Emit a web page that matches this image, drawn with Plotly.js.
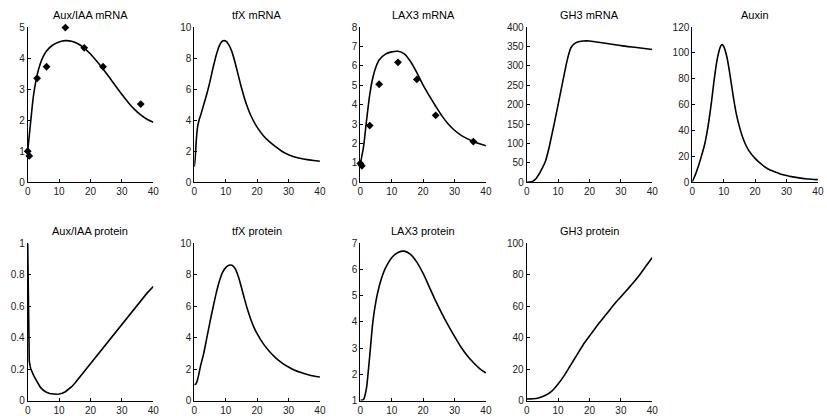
<!DOCTYPE html>
<html>
<head>
<meta charset="utf-8">
<script src="https://cdn.plot.ly/plotly-3.0.1.min.js"></script>
<style>html,body{margin:0;padding:0;background:#fff;}#chart{width:827px;height:416px;}</style>
</head>
<body>
<div id="chart"></div>
<script>
// ---- Data ----
const titles = ["Aux/IAA mRNA", "tfX mRNA", "LAX3 mRNA", "GH3 mRNA", "Auxin",
                "Aux/IAA protein", "tfX protein", "LAX3 protein", "GH3 protein"];

const auxIaaMrnaT = [0,0.5,1,1.5,2,3,4,5,6,8,10,12,14,16,18,20,22,24,26,28,30,32,34,36,38,40];
const auxIaaMrnaV = [1.0,1.5,2.0,2.5,2.9,3.45,3.82,4.06,4.23,4.42,4.52,4.56,4.54,4.46,4.32,4.13,3.9,3.65,3.38,3.1,2.83,2.57,2.35,2.17,2.03,1.93];

const tfxMrnaT = [0,0.3,0.6,1,1.5,2,3,4,5,6,7,8,9,10,11,12,13,14,15,16,17,18,20,22,24,26,28,30,32,34,36,38,40];
const tfxMrnaV = [1.0,1.6,2.6,3.5,4.0,4.3,5.0,5.7,6.5,7.4,8.2,8.8,9.1,9.1,8.85,8.4,7.7,6.9,6.1,5.4,4.8,4.3,3.55,3.0,2.6,2.28,1.98,1.78,1.63,1.53,1.46,1.4,1.36];

const lax3MrnaT = [0,1,2,3,4,5,6,8,10,12,14,16,18,20,22,24,26,28,30,32,34,36,38,40];
const lax3MrnaV = [0.97,1.8,3.2,4.5,5.4,5.95,6.3,6.6,6.72,6.75,6.62,6.22,5.65,5.0,4.45,3.92,3.42,3.0,2.68,2.43,2.25,2.1,1.98,1.88];

const gh3MrnaT = [0,1,2,3,4,5,6,7,8,9,10,11,12,13,14,15,16,18,20,25,30,35,40];
const gh3MrnaV = [0,0.5,3,10,22,37,55,85,122,160,200,240,280,318,345,356,361,364,364,358,352,347,342];

const auxinT = [0,1,2,3,4,5,6,7,8,9,9.5,10,11,12,13,14,15,16,17,18,20,22,24,26,28,30,32,34,36,38,40];
const auxinV = [0.5,6,13,21,30,43,60,80,96,105,106.5,105,97,83,67,53,43,35,29,24.5,18.5,14,10.5,8.3,6.5,5.2,4.2,3.4,2.8,2.4,2.1];

const auxIaaProtT = [0,0.15,0.3,0.5,0.8,1,2,3,4,5,6,7,8,9,10,11,12,13,14,15,16,18,20,22,24,26,28,30,32,34,36,38,40];
const auxIaaProtV = [1.0,0.6,0.35,0.25,0.215,0.2,0.155,0.115,0.085,0.065,0.052,0.045,0.041,0.04,0.041,0.046,0.056,0.07,0.088,0.11,0.135,0.187,0.238,0.289,0.34,0.39,0.44,0.49,0.54,0.59,0.638,0.683,0.725];

const tfxProtT = [0,0.5,1,2,3,4,5,6,7,8,9,10,11,12,13,14,15,16,17,18,19,20,22,24,26,28,30,32,34,36,38,40];
const tfxProtV = [1.0,1.05,1.3,2.2,3.0,4.0,5.0,5.95,6.85,7.6,8.15,8.45,8.6,8.6,8.4,7.9,7.2,6.45,5.75,5.15,4.65,4.25,3.6,3.1,2.7,2.38,2.13,1.93,1.78,1.66,1.56,1.49];

const lax3ProtT = [0,1,1.5,2,3,4,5,6,7,8,10,12,14,16,18,20,22,24,26,28,30,32,34,36,38,40];
const lax3ProtV = [1.0,1.03,1.2,1.5,2.7,4.0,4.8,5.35,5.75,6.05,6.45,6.65,6.7,6.58,6.28,5.85,5.33,4.8,4.32,3.87,3.45,3.05,2.72,2.45,2.22,2.05];

const gh3ProtT = [0,2,4,6,8,10,12,14,16,18,20,22,24,26,28,30,32,34,36,38,40];
const gh3ProtV = [1,1.1,1.8,3.3,6,10.5,16,22.5,29,35.5,41,46.5,51.5,56.5,61.5,66,70.5,75,80,85.5,91];

// measured data points (diamonds)
const dataT = [0,0.5,3,6,12,18,24,36];
const auxIaaMrnaData = [1.0,0.85,3.35,3.72,4.98,4.33,3.72,2.52];
const lax3MrnaData = [0.97,0.85,2.92,5.05,6.18,5.3,3.45,2.1];

// y-axis ranges and tick steps
const yRanges = [[0,5],[0,10],[0,8],[0,400],[0,120],[0,1],[0,10],[1,7],[0,100]];
const yDticks = [1,2,1,50,20,0.2,2,1,20];
const xTicks = [0,10,20,30,40];

// ---- Layout ----
const W = 827, H = 416;
const lefts = [27.7, 194.3, 360.3, 526.7, 692.3];
const axW = 125.6;
const rows = [[27, 182.3],[243.3, 400.5]];

const curves = [
  [auxIaaMrnaT, auxIaaMrnaV],[tfxMrnaT, tfxMrnaV],[lax3MrnaT, lax3MrnaV],[gh3MrnaT, gh3MrnaV],[auxinT, auxinV],
  [auxIaaProtT, auxIaaProtV],[tfxProtT, tfxProtV],[lax3ProtT, lax3ProtV],[gh3ProtT, gh3ProtV]
];

const traces = [];
const layout = {
  width: W, height: H,
  margin: {l:0, r:0, t:0, b:0},
  paper_bgcolor: '#fff', plot_bgcolor: 'rgba(0,0,0,0)',
  showlegend: false,
  font: {family: 'Liberation Sans, Arial, sans-serif', size: 10, color: '#000'},
  annotations: []
};

for (let i = 0; i < 9; i++) {
  const row = i < 5 ? 0 : 1;
  const col = i < 5 ? i : i - 5;
  const n = i + 1;
  const xa = 'x' + (n === 1 ? '' : n), ya = 'y' + (n === 1 ? '' : n);
  const x0 = lefts[col] / W, x1 = (lefts[col] + axW) / W;
  const y1 = 1 - rows[row][0] / H, y0 = 1 - rows[row][1] / H;
  const axCommon = {
    showline: true, linecolor: '#000', linewidth: 1,
    ticks: 'inside', ticklen: 3, tickwidth: 1, tickcolor: '#000',
    showgrid: false, zeroline: false, fixedrange: true,
    tickfont: {family: 'Liberation Sans, Arial, sans-serif', size: 10, color: '#222'}
  };
  layout['xaxis' + (n === 1 ? '' : n)] = Object.assign({}, axCommon, {
    domain: [x0, x1], range: [0, 40], tickvals: xTicks, ticktext: xTicks.map(String),
    anchor: ya
  });
  layout['yaxis' + (n === 1 ? '' : n)] = Object.assign({}, axCommon, {
    domain: [y0, y1], range: yRanges[i], dtick: yDticks[i], tick0: 0,
    anchor: xa
  });
  traces.push({
    x: curves[i][0], y: curves[i][1], xaxis: xa, yaxis: ya,
    type: 'scatter', mode: 'lines', cliponaxis: false,
    line: {color: '#000', width: 1.6, shape: i === 5 ? 'linear' : 'spline', smoothing: 0.8},
    hoverinfo: 'skip'
  });
  layout.annotations.push({
    text: titles[i], xref: 'paper', yref: 'paper',
    x: (x0 + x1) / 2, y: 1 - (rows[row][0] - 12) / H,
    xanchor: 'center', yanchor: 'middle', showarrow: false,
    font: {family: 'Liberation Sans, Arial, sans-serif', size: 11, color: '#000'}
  });
}

traces.push({x: dataT, y: auxIaaMrnaData, xaxis: 'x', yaxis: 'y', type: 'scatter', mode: 'markers',
  cliponaxis: false, marker: {symbol: 'diamond', size: 6, color: '#000'}, hoverinfo: 'skip'});
traces.push({x: dataT, y: lax3MrnaData, xaxis: 'x3', yaxis: 'y3', type: 'scatter', mode: 'markers',
  cliponaxis: false, marker: {symbol: 'diamond', size: 6, color: '#000'}, hoverinfo: 'skip'});

Plotly.newPlot('chart', traces, layout, {staticPlot: true, displayModeBar: false});
</script>
</body>
</html>
